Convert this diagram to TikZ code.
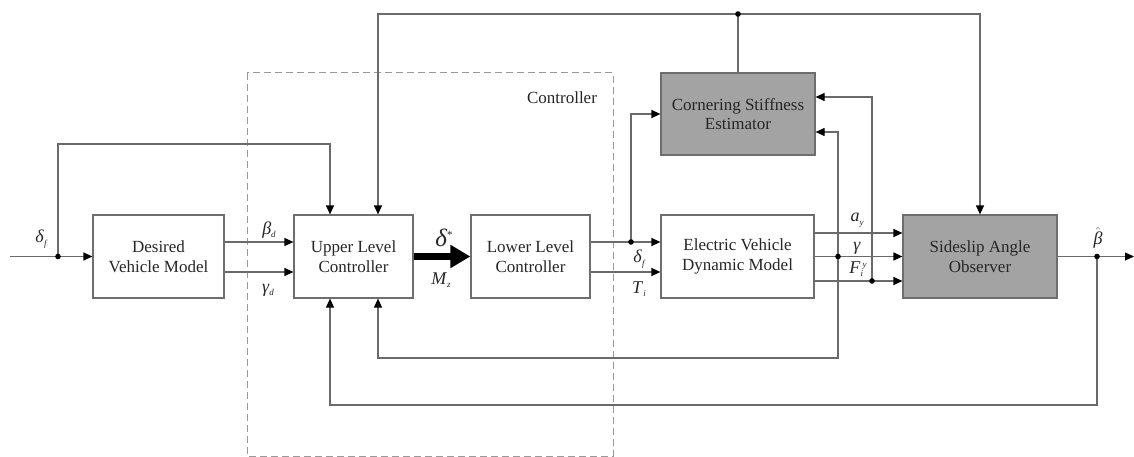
\documentclass[tikz,border=0pt]{standalone}
\usepackage{fontspec}
\setmainfont{Liberation Serif}
\usetikzlibrary{arrows.meta,calc}
\definecolor{ln}{HTML}{6A6A6A}
\definecolor{bd}{HTML}{6E6E6E}
\definecolor{gf}{HTML}{A3A3A3}
\definecolor{tx}{HTML}{262626}
\newcommand{\gi}[1]{\textit{#1}}
\newcommand{\sbs}[1]{\raisebox{-3.5pt}{\fontsize{9}{9}\selectfont\itshape #1}}
\newcommand{\sps}[1]{\raisebox{6pt}{\fontsize{9}{9}\selectfont\itshape #1}}
\begin{document}
\begin{tikzpicture}[x=1pt,y=-1pt,
  blk/.style={draw=bd, line width=1.2pt, fill=white, align=center, text=tx,
    font=\fontsize{17}{19.5}\selectfont, minimum height=83pt, inner sep=0pt},
  gblk/.style={blk, fill=gf},
  line/.style={draw=ln, line width=1.2pt},
  sig/.style={line, -{Triangle[length=9pt,width=8pt,fill=black,color=black]}},
  bigarr/.style={draw=black, line width=6.5pt, -{Triangle[length=20pt,width=22pt]}},
  lbl/.style={text=tx, font=\fontsize{18}{20}\selectfont, inner sep=0pt},
  dot/.style={fill=black}
]
\useasboundingbox (0,0) rectangle (1134,457);
% dashed controller frame
\draw[draw=gray!80, line width=1pt, dash pattern=on 7pt off 4pt] (247,73) rectangle (613,456);
\node[lbl, font=\fontsize{17}{19}\selectfont] (ctl) at (562,98) {Controller};

% blocks
\node[blk, minimum width=131pt] (dvm) at (158.5,256.5) {Desired\\Vehicle Model};
\node[blk, minimum width=119pt] (ulc) at (353.5,256.5) {Upper Level\\Controller};
\node[blk, minimum width=119pt] (llc) at (530.5,256.5) {Lower Level\\Controller};
\node[blk, minimum width=153pt] (evdm) at (737.5,256.5) {Electric Vehicle\\Dynamic Model};
\node[gblk, minimum width=154pt, minimum height=82pt] (cse) at (738,114) {Cornering Stiffness\\Estimator};
\node[gblk, minimum width=154pt] (sao) at (980,256.5) {Sideslip Angle\\Observer};

% coordinates
\coordinate (in) at (10,256.5);
\coordinate (j1) at (58,256.5);
\coordinate (c1) at (58,144);
\coordinate (top) at (738,14);
\coordinate (j2) at (631,242);
\coordinate (j3) at (838,256.5);
\coordinate (b1) at (838,358);
\coordinate (j4) at (872,281);
\coordinate (j5) at (1097,256.5);
\coordinate (b2) at (1097,405);
\coordinate (out) at (1134,256.5);

% connectors
\draw[sig] (in) -- (dvm.west);
\draw[sig] (j1) -- (c1) -| ([xshift=-23.5pt]ulc.north);
\draw[line] (cse.north) -- (top);
\draw[sig] (top) -| ([xshift=24.5pt]ulc.north);
\draw[sig] (top) -| (sao.north);
\draw[sig] ([yshift=14.5pt]dvm.east) -- ([yshift=14.5pt]ulc.west);
\draw[sig] ([yshift=-15.5pt]dvm.east) -- ([yshift=-15.5pt]ulc.west);
\draw[bigarr] (ulc.east) -- (llc.west);
\draw[sig] ([yshift=14.5pt]llc.east) -- ([yshift=14.5pt]evdm.west);
\draw[sig] ([yshift=-15.5pt]llc.east) -- ([yshift=-15.5pt]evdm.west);
\draw[sig] (j2) |- (cse.west);
\draw[sig] ([yshift=23.5pt]evdm.east) -- ([yshift=23.5pt]sao.west);
\draw[sig] (evdm.east) -- (sao.west);
\draw[sig] ([yshift=-24.5pt]evdm.east) -- ([yshift=-24.5pt]sao.west);
\draw[sig] (j3) |- ([yshift=-18pt]cse.east);
\draw[sig] (j4) |- ([yshift=17pt]cse.east);
\draw[sig] (j3) -- (b1) -| ([xshift=24.5pt]ulc.south);
\draw[sig] (sao.east) -- (out);
\draw[sig] (j5) -- (b2) -| ([xshift=-23.5pt]ulc.south);

% dots
\foreach \p in {j1,top,j2,j3,j4,j5} \fill[dot] (\p) circle (2.8pt);

% labels
\node[lbl] (l1) at (41,239) {\gi{δ}\sbs{f}};
\node[lbl] (l2) at (269,230) {\gi{β}\sbs{d}};
\node[lbl] (l3) at (268,290) {\gi{γ}\sbs{d}};
\node[lbl, font=\fontsize{25}{28}\selectfont] (l4) at (444,238) {\gi{δ}\raisebox{8pt}{\fontsize{11}{11}\selectfont *}};
\node[lbl] (l5) at (441,280) {\gi{M}\sbs{z}};
\node[lbl] (l6) at (639,259) {\gi{δ}\sbs{f}};
\node[lbl] (l7) at (639,289) {\gi{T}\sbs{i}};
\node[lbl] (l8) at (857,220) {\gi{a}\sbs{y}};
\node[lbl] (l9) at (857,248) {\gi{γ}};
\node[lbl] (l10) at (858,269) {\gi{F}\sbs{i}\kern-0.5pt\sps{y}};
\node[lbl] (l11) at (1098,238) {$\hat{\mbox{\gi{β}}}$};
\end{tikzpicture}
\end{document}
